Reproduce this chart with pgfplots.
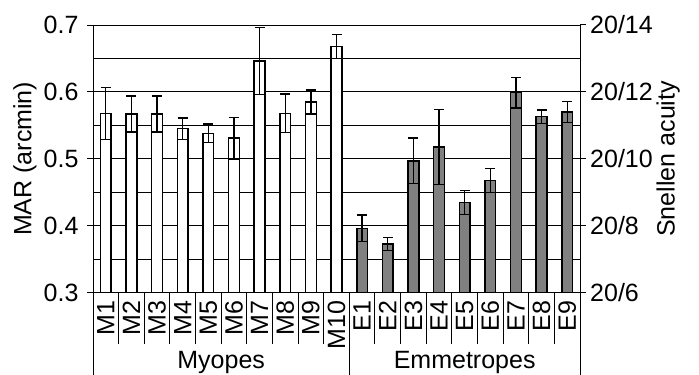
\documentclass[border=0pt]{standalone}
\usepackage{pgfplots}
\usepackage{pgfplotstable}
\pgfplotsset{compat=1.18}
\usepackage{fontspec}
\setmainfont{Liberation Sans}
\definecolor{barfillE}{RGB}{128,128,128}
\newcommand{\lblfont}{\fontsize{25bp}{29bp}\selectfont}
\pgfplotstableread{
x val err
0 0.568 0.039
1 0.567 0.027
2 0.567 0.027
3 0.545 0.016
4 0.538 0.014
5 0.531 0.031
6 0.646 0.050
7 0.568 0.029
8 0.585 0.018
9 0.668 0.018
}\myopes
\pgfplotstableread{
x val err
10 0.396 0.020
11 0.373 0.010
12 0.497 0.034
13 0.518 0.056
14 0.435 0.018
15 0.468 0.018
16 0.599 0.023
17 0.563 0.010
18 0.570 0.016
}\emmet
\begin{document}
\lblfont
\begin{tikzpicture}
\useasboundingbox (0,0) rectangle (699bp,375bp);
\begin{axis}[
  at={(93bp,82.3bp)}, anchor=south west, scale only axis,
  width=487bp, height=267.7bp,
  xmin=-0.5, xmax=18.5, ymin=0.3, ymax=0.7,
  clip mode=individual,
  ybar, bar width=0.42, bar shift=0pt,
  xtick={0,...,18},
  xticklabels={M1,M2,M3,M4,M5,M6,M7,M8,M9,M10,E1,E2,E3,E4,E5,E6,E7,E8,E9},
  xticklabel style={rotate=90, anchor=east, inner sep=2bp, font=\lblfont},
  major x tick style={draw=none},
  ytick={0.3,0.4,0.5,0.6,0.7},
  yticklabels={0.3,0.4,0.5,0.6,0.7},
  minor ytick={0.35,0.45,0.55,0.65},
  yticklabel style={font=\lblfont},
  ytick pos=left,
  ymajorgrids, yminorgrids,
  grid style={black, line width=1bp},
  major grid style={black, line width=1bp},
  minor grid style={black, line width=1bp},
  tick align=outside, major tick length=6bp, minor tick length=0pt,
  tick style={black, line width=1bp},
  axis line style={black, line width=1bp},
  ylabel={MAR (arcmin)},
  every axis y label/.style={at={(axis description cs:-0.1396,0.5)}, rotate=90, anchor=center, font=\lblfont},
  error bars/y dir=both, error bars/y explicit,
  error bars/error mark=-,
  error bars/error bar style={black, line width=1.3bp},
  error bars/error mark options={rotate=90, black, line width=1.3bp, mark size=5bp},
]
\addplot[fill=white, draw=black, line width=1.5bp] table[x=x, y=val, y error=err] {\myopes};
\addplot[fill=barfillE, draw=black, line width=1.5bp] table[x=x, y=val, y error=err] {\emmet};
\pgfplotsinvokeforeach{0.5,1.5,2.5,3.5,4.5,5.5,6.5,7.5,8.5,10.5,11.5,12.5,13.5,14.5,15.5,16.5,17.5}{
  \draw[black, line width=1bp] (axis cs:#1,0.3) -- (axis cs:#1,0.2233);
}
\pgfplotsinvokeforeach{-0.5,9.5,18.5}{
  \draw[black, line width=1bp] (axis cs:#1,0.3) -- (axis cs:#1,0.15);
}
\node[font=\lblfont] at (axis cs:4.5,0.1964) {Myopes};
\node[font=\lblfont] at (axis cs:14,0.1964) {Emmetropes};
\end{axis}
\begin{axis}[
  at={(93bp,82.3bp)}, anchor=south west, scale only axis,
  width=487bp, height=267.7bp,
  xmin=-0.5, xmax=18.5, ymin=0.3, ymax=0.7,
  hide x axis, axis y line*=right,
  ytick={0.3,0.4,0.5,0.6,0.7},
  yticklabels={20/6,20/8,20/10,20/12,20/14},
  yticklabel style={font=\lblfont, inner sep=4bp},
  tick align=outside, major tick length=6bp,
  tick style={black, line width=1bp},
  axis line style={black, line width=1bp},
  ylabel={Snellen acuity},
  every axis y label/.style={at={(axis description cs:1.181,0.5)}, rotate=90, anchor=center, font=\lblfont},
]
\addplot[draw=none] coordinates {(0,0.5)};
\end{axis}
\end{tikzpicture}
\end{document}
